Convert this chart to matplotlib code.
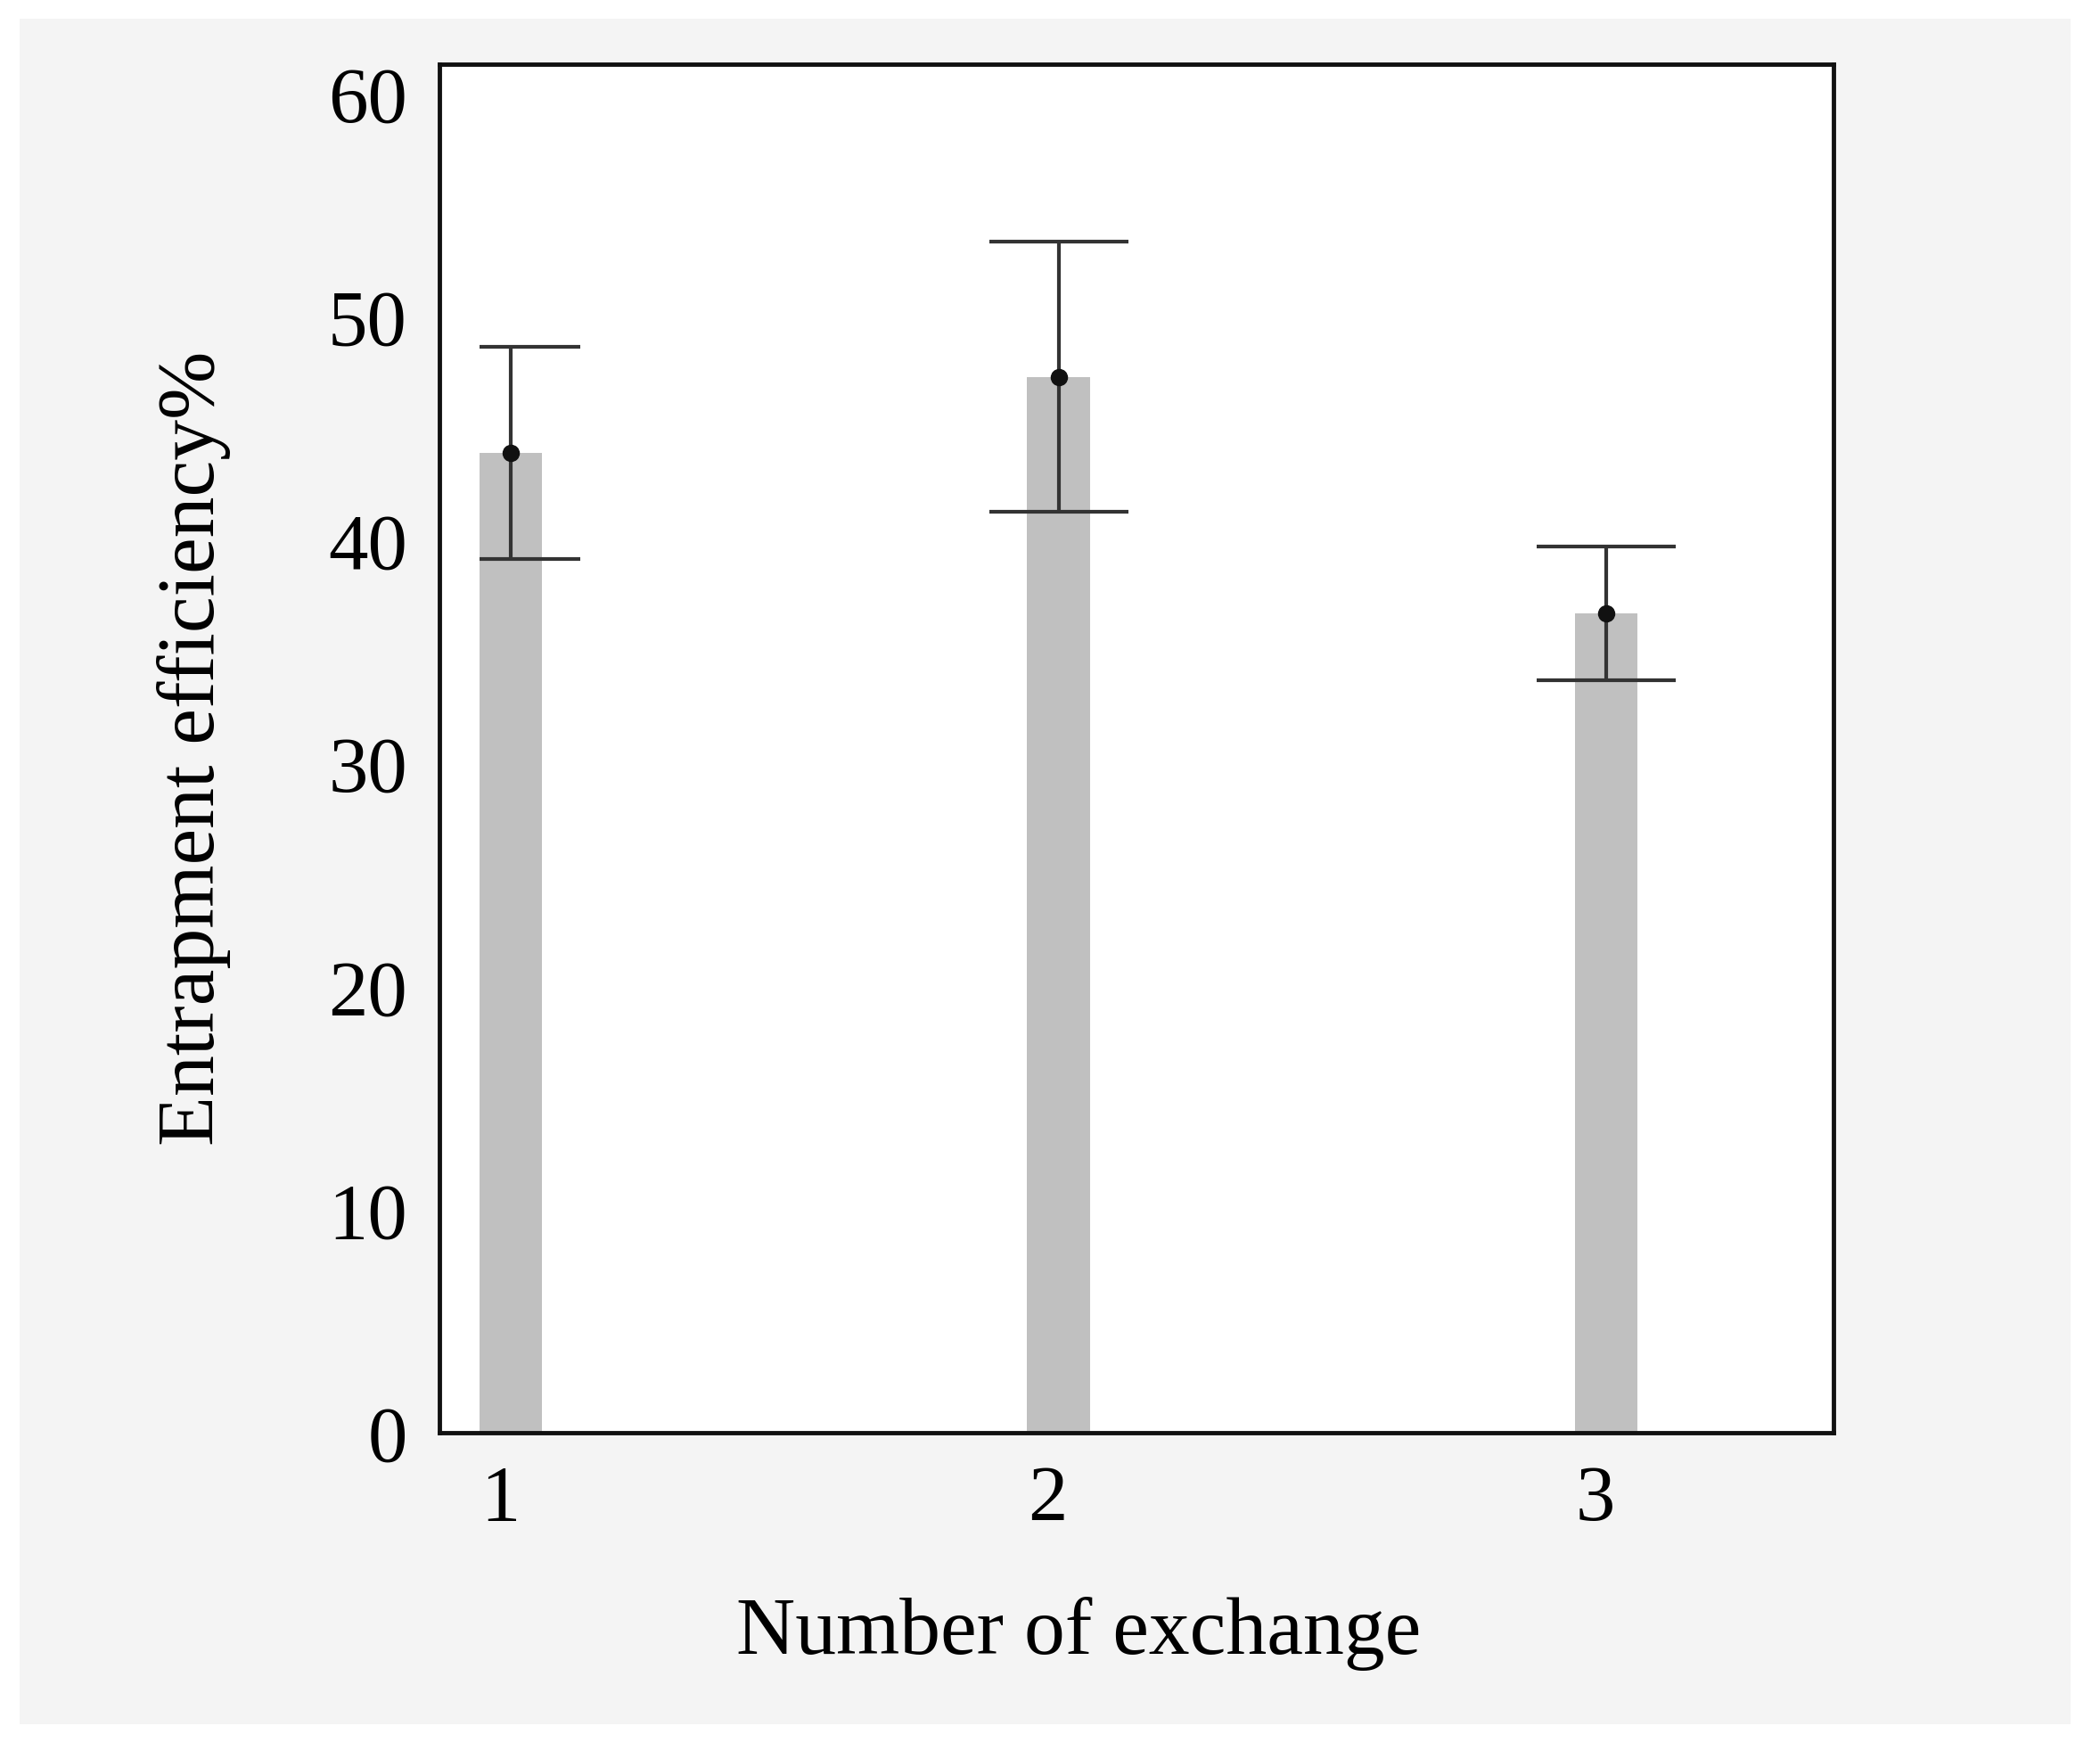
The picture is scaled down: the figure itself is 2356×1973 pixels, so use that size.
import matplotlib
matplotlib.use("Agg")
import matplotlib.pyplot as plt
from matplotlib.patches import Rectangle
from matplotlib.transforms import ScaledTranslation

# values
exchanges = [1, 2, 3]
efficiency = [43.9, 47.3, 36.7]
err = [4.75, 6.05, 3.0]
yticks = [0, 10, 20, 30, 40, 50, 60]
bar_w = 0.114

plt.rcParams["font.family"] = ["Liberation Serif", "DejaVu Serif"]

fig = plt.figure(figsize=(23.56, 19.74), dpi=100, facecolor="white")
# light grey panel behind the plot, with a thin white margin
fig.patches.append(Rectangle((0.0093, 0.0198), 0.9767, 0.9691, transform=fig.transFigure,
                             facecolor="#f4f4f4", edgecolor="none", zorder=-10))

ax = fig.add_axes([0.2093, 0.1854, 0.6638, 0.7776])
ax.set_facecolor("white")

ax.bar(exchanges, efficiency, width=bar_w, color="#c0c0c0", zorder=2)
_, caps, _ = ax.errorbar(exchanges, efficiency, yerr=err, fmt="o", color="#111111", ms=13,
                         ecolor="#333333", elinewidth=3, capsize=56, capthick=3, zorder=3)

ax.set_xlim(0.870, 3.415)
ax.set_ylim(0, 61.3)

# in the source the caps of the first bar are cut off at the bar's left edge
clip = Rectangle((exchanges[0] - bar_w / 2, 0), 10, 100, transform=ax.transData)
for c in caps:
    c.set_clip_path(clip)

ax.set_xticks(exchanges)
ax.set_yticks(yticks)
ax.tick_params(axis="x", length=0, pad=25, labelsize=64)
ax.tick_params(axis="y", length=0, pad=26, labelsize=64)
for lab in ax.get_xticklabels():
    lab.set_transform(lab.get_transform() + ScaledTranslation(-0.12, 0, fig.dpi_scale_trans))

for sp in ax.spines.values():
    sp.set_linewidth(3.5)
    sp.set_color("#111111")

ax.set_xlabel("Number of exchange", fontsize=66, va="baseline")
ax.xaxis.set_label_coords(0.5136, 0.0603, transform=fig.transFigure)
ax.set_ylabel("Entrapment efficiency%", fontsize=66, va="baseline")
ax.yaxis.set_label_coords(0.1019, 0.575, transform=fig.transFigure)

fig.savefig("out.png", dpi=100, facecolor=fig.get_facecolor())
